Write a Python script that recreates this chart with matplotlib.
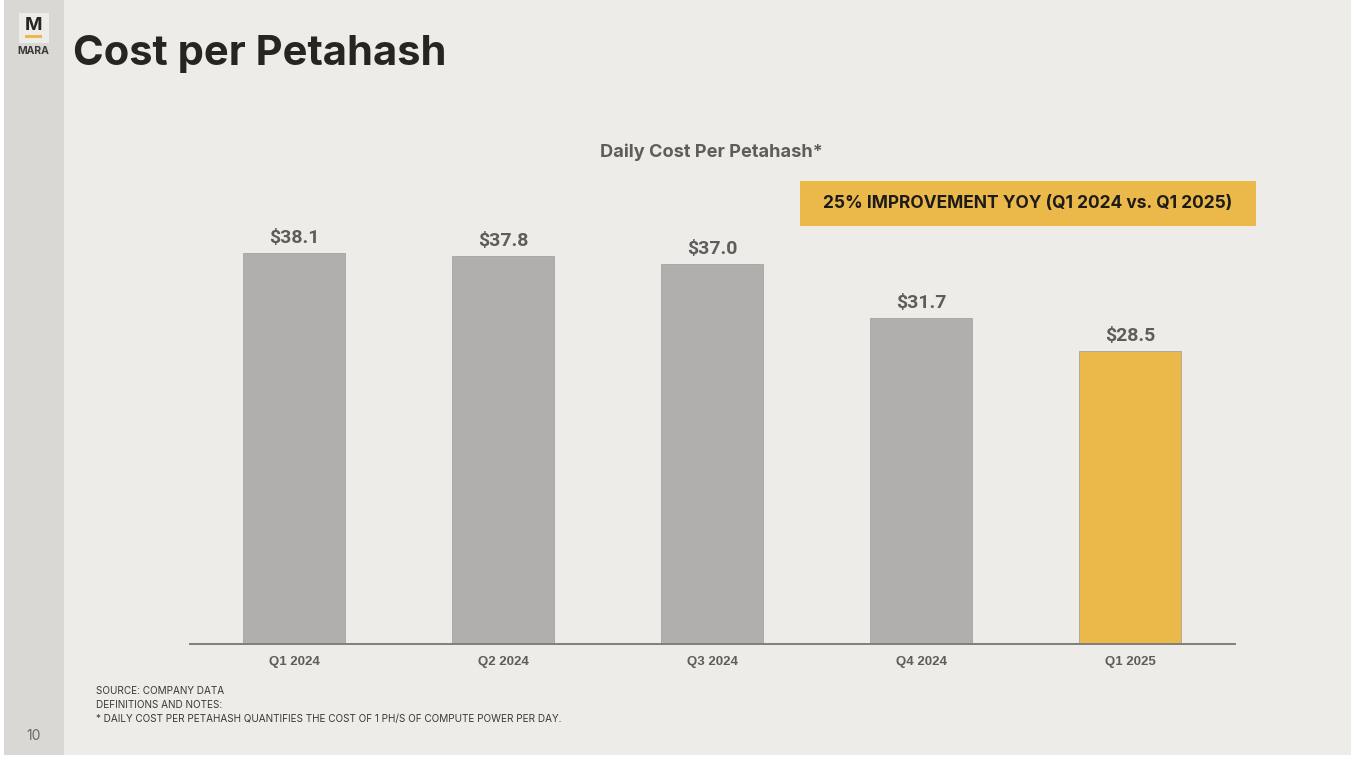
import matplotlib
matplotlib.use("Agg")
import matplotlib.pyplot as plt
from matplotlib.patches import Rectangle

# Values
quarters = ["Q1 2024", "Q2 2024", "Q3 2024", "Q4 2024", "Q1 2025"]
cost_per_ph = [38.1, 37.8, 37.0, 31.7, 28.5]
value_labels = ["$38.1", "$37.8", "$37.0", "$31.7", "$28.5"]

GREY = "#B0AFAD"
GOLD = "#EBB84A"
BG = "#EDECE8"
STRIP = "#D9D8D4"
DARK = "#262522"
LABEL = "#5E5D5B"

W, H = 1358, 762
fig = plt.figure(figsize=(W / 100, H / 100), dpi=100, facecolor="white")

# Slide furniture, drawn in pixel coordinates
bg = fig.add_axes([0, 0, 1, 1])
bg.set_xlim(0, W)
bg.set_ylim(H, 0)
bg.axis("off")
bg.add_patch(Rectangle((4, 0), 1347, 755, fc=BG, ec="none"))
bg.add_patch(Rectangle((4, 0), 60, 755, fc=STRIP, ec="none"))

# Logo
bg.add_patch(Rectangle((19, 13), 30, 30, fc=BG, ec="none"))
bg.text(34, 25.5, "M", family="Inter", weight="bold", fontsize=13.5, color=DARK, ha="center", va="center")
bg.add_patch(Rectangle((25, 35), 17, 2.6, fc=GOLD, ec="none"))
bg.text(33.5, 50.5, "MARA", family="Inter", weight="bold", fontsize=7.5, color="#3A3A38", ha="center", va="center")

bg.text(73, 54, "Cost per Petahash", family="Inter", weight="bold", fontsize=30, color=DARK, ha="left", va="center")
bg.text(711, 152, "Daily Cost Per Petahash*", family="Inter", weight="bold", fontsize=13.1, color=LABEL, ha="center", va="center")

# Callout
bg.add_patch(Rectangle((800, 181), 456, 45, fc=GOLD, ec="none"))
bg.text(1028, 203, "25% IMPROVEMENT YOY (Q1 2024 vs. Q1 2025)", family="Inter", weight="bold", fontsize=12.5, color="#1C1B19", ha="center", va="center")

# Footnotes
notes = ["SOURCE: COMPANY DATA", "DEFINITIONS AND NOTES:", "* DAILY COST PER PETAHASH QUANTIFIES THE COST OF 1 PH/S OF COMPUTE POWER PER DAY."]
for y, line in zip([691, 705, 719], notes):
    bg.text(96, y, line, family="Inter", fontsize=7.2, color="#3A3A38", ha="left", va="center")
bg.text(33.5, 736, "10", family="Inter", fontsize=10, color="#6A6967", ha="center", va="center")

# Bar chart: 209 px per category, 10.27 px per dollar
top_px, base_px, left_px, right_px = 100, 644, 189.5, 1235
ax = fig.add_axes([left_px / W, 1 - base_px / H, (right_px - left_px) / W, (base_px - top_px) / H])
ax.patch.set_alpha(0)
colors = [GREY] * 4 + [GOLD]
bars = ax.bar(range(len(quarters)), cost_per_ph, width=0.488, color=colors, edgecolor="#A5A4A1", linewidth=0.6)
ax.set_xlim(-0.5, 4.5)
ax.set_ylim(0, (base_px - top_px) / 10.27)

for bar, lab in zip(bars, value_labels):
    ax.annotate(lab, (bar.get_x() + bar.get_width() / 2, bar.get_height()), xytext=(0, 6),
                textcoords="offset pixels", family="Roboto", weight="bold", fontsize=14,
                color=LABEL, ha="center", va="bottom")

ax.set_xticks(range(len(quarters)))
ax.set_xticklabels(quarters, family="Liberation Sans", weight="bold", fontsize=9.5, color=LABEL)
ax.tick_params(axis="x", length=0, pad=9)
ax.set_yticks([])
for side in ["top", "left", "right"]:
    ax.spines[side].set_visible(False)
ax.spines["bottom"].set_color("#807F7C")
ax.spines["bottom"].set_linewidth(1.4)

fig.savefig("out.png", dpi=100, facecolor="white")
